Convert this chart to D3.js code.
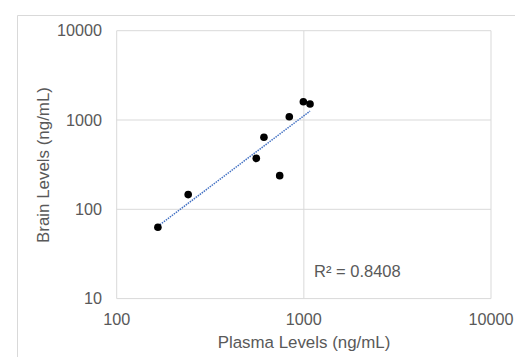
<!DOCTYPE html>
<html><head><meta charset="utf-8">
<script src="https://cdn.jsdelivr.net/npm/d3@7"></script>
<style>body{margin:0;background:#fff}svg{display:block}text{font-family:"Liberation Sans",Arial,sans-serif;fill:#595959}</style>
</head><body>
<script>
const plasma = [166, 241, 557, 612, 743, 836, 994, 1079];
const brain  = [63, 146, 372, 640, 238, 1089, 1603, 1511];
const xTicks = [100, 1000, 10000];
const yTicks = [10, 100, 1000, 10000];
const xTitle = "Plasma Levels (ng/mL)";
const yTitle = "Brain Levels (ng/mL)";
const r2Label = "R² = 0.8408";

const W = 515, H = 357;
const m = {l: 116.7, r: 491, t: 30.7, b: 298.6};
const svg = d3.select("body").append("svg").attr("width", W).attr("height", H);

// outer chart border
svg.append("path").attr("d", `M17.5,${H}V15.5H${W}`).attr("fill","none").attr("stroke","#d9d9d9").attr("stroke-width",1);

const x = d3.scaleLog().domain([100, 10000]).range([m.l, m.r]);
const y = d3.scaleLog().domain([10, 10000]).range([m.b, m.t]);

// grid
svg.append("g").selectAll("line").data(xTicks).join("line")
  .attr("x1", d => x(d)).attr("x2", d => x(d)).attr("y1", m.t).attr("y2", m.b)
  .attr("stroke", "#d9d9d9").attr("stroke-width", 1);
svg.append("g").selectAll("line").data(yTicks).join("line")
  .attr("x1", m.l).attr("x2", m.r).attr("y1", d => y(d)).attr("y2", d => y(d))
  .attr("stroke", "#d9d9d9").attr("stroke-width", 1);

// tick labels
svg.append("g").selectAll("text").data(xTicks).join("text")
  .attr("x", d => x(d)).attr("y", 325).attr("text-anchor", "middle")
  .attr("font-size", 16.2).text(d => d);
svg.append("g").selectAll("text").data(yTicks).join("text")
  .attr("x", 102).attr("y", d => y(d)).attr("dy", "0.35em").attr("text-anchor", "end")
  .attr("font-size", 16.2).text(d => d);

// titles
svg.append("text").attr("x", 304).attr("y", 341.7).attr("dy","0.35em").attr("text-anchor","middle")
  .attr("font-size", 16.9).text(xTitle);
svg.append("text").attr("transform","translate(43.5,165) rotate(-90)").attr("dy","0.35em").attr("text-anchor","middle")
  .attr("font-size", 16.9).text(yTitle);

// power trendline (least squares in log-log space)
const lx = plasma.map(Math.log10), ly = brain.map(Math.log10);
const mx = d3.mean(lx), my = d3.mean(ly);
const slope = d3.sum(lx.map((v,i)=>(v-mx)*(ly[i]-my))) / d3.sum(lx.map(v=>(v-mx)*(v-mx)));
const icpt = my - slope*mx;
const xr = d3.extent(plasma);
const fit = d3.range(0, 41).map(i => { const lv = Math.log10(xr[0]) + i/40*(Math.log10(xr[1])-Math.log10(xr[0])); return [Math.pow(10, lv), Math.pow(10, icpt + slope*lv)]; });
svg.append("path").datum(fit)
  .attr("d", d3.line().x(d => x(d[0])).y(d => y(d[1])))
  .attr("fill","none").attr("stroke","#4472c4").attr("stroke-width",1.5).attr("stroke-dasharray","1.5,1");

// points
svg.append("g").selectAll("circle").data(plasma).join("circle")
  .attr("cx", d => x(d)).attr("cy", (d,i) => y(brain[i])).attr("r", 3.8).attr("fill", "#000");

svg.append("text").attr("x", 314).attr("y", 271.7).attr("dy","0.35em").attr("font-size", 16.5).text(r2Label);
</script>
</body></html>
